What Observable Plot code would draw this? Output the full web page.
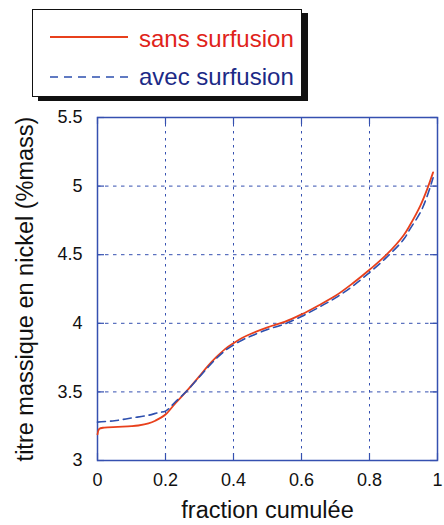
<!DOCTYPE html>
<html>
<head>
<meta charset="utf-8">
<script src="https://cdn.jsdelivr.net/npm/d3@7"></script>
<script src="https://cdn.jsdelivr.net/npm/@observablehq/plot@0.6"></script>
<style>
  html, body { margin: 0; padding: 0; background: #fff; }
  #wrap { position: relative; width: 444px; height: 525px; font-family: "Liberation Sans", Arial, sans-serif; }
  #legend { position: absolute; left: 32px; top: 9px; width: 268px; height: 86px; background: #fff;
            border: 1.5px solid #111; box-shadow: 6px 4px 0 #111; }
  #legend svg { position: absolute; left: 0; top: 0; }
  .lt { position: absolute; font-size: 24px; white-space: nowrap; line-height: 1; }
</style>
</head>
<body>
<div id="wrap">
  <div id="chart"></div>
  <div id="legend">
    <svg width="110" height="86">
      <line x1="17" x2="95" y1="27" y2="27" stroke="#e8401c" stroke-width="1.8"></line>
      <line x1="17" x2="95" y1="67" y2="67" stroke="#2d4fae" stroke-width="1.6" stroke-dasharray="8,6"></line>
    </svg>
    <div class="lt" style="left:106px; top:17px; color:#e0231a;">sans surfusion</div>
    <div class="lt" style="left:106px; top:55px; color:#1c2a86;">avec surfusion</div>
  </div>
</div>
<script>
// Data
const fraction_sans = [0, 0.005, 0.02, 0.06, 0.1, 0.12, 0.15, 0.17, 0.2, 0.23, 0.26, 0.3, 0.325, 0.35, 0.375, 0.4, 0.425, 0.45, 0.5, 0.55, 0.6, 0.65, 0.7, 0.75, 0.8, 0.85, 0.9, 0.92, 0.95, 0.97, 0.987];
const nickel_sans   = [3.19, 3.23, 3.24, 3.245, 3.25, 3.255, 3.27, 3.29, 3.335, 3.42, 3.50, 3.615, 3.69, 3.755, 3.812, 3.855, 3.893, 3.922, 3.97, 4.01, 4.065, 4.13, 4.2, 4.29, 4.39, 4.50, 4.64, 4.72, 4.86, 4.98, 5.1];
const fraction_avec = [0, 0.05, 0.1, 0.15, 0.18, 0.2, 0.23, 0.26, 0.3, 0.325, 0.35, 0.375, 0.4, 0.425, 0.45, 0.5, 0.55, 0.6, 0.65, 0.7, 0.75, 0.8, 0.85, 0.9, 0.92, 0.95, 0.97, 0.987];
const nickel_avec   = [3.28, 3.29, 3.31, 3.33, 3.35, 3.36, 3.43, 3.50, 3.61, 3.68, 3.745, 3.80, 3.842, 3.877, 3.905, 3.955, 3.995, 4.05, 4.115, 4.185, 4.27, 4.37, 4.48, 4.61, 4.69, 4.81, 4.93, 5.06];
const xTicks = [0, 0.2, 0.4, 0.6, 0.8, 1];
const xTickLabels = ["0", "0.2", "0.4", "0.6", "0.8", "1"];
const yTicks = [3, 3.5, 4, 4.5, 5, 5.5];
const yTickLabels = ["3", "3.5", "4", "4.5", "5", "5.5"];
const xLabel = "fraction cumulée";
const yLabel = "titre massique en nickel (%mass)";

const sans = fraction_sans.map((f, i) => ({f, v: nickel_sans[i]}));
const avec = fraction_avec.map((f, i) => ({f, v: nickel_avec[i]}));

const blue = "#3550b0";
const width = 444, height = 525;
const mt = 117, mb = 65, ml = 97, mr = 7;
const ph = height - mt - mb, pw = width - ml - mr;
const tk = 7;

const chart = Plot.plot({
  width, height,
  marginTop: mt, marginBottom: mb, marginLeft: ml, marginRight: mr,
  style: {fontFamily: "'Liberation Sans', Arial, sans-serif", fontSize: "18px", color: "#111", background: "transparent"},
  x: {domain: [0, 1]},
  y: {domain: [3, 5.5]},
  marks: [
    Plot.gridX(xTicks.slice(1, -1), {stroke: blue, strokeOpacity: 1, strokeWidth: 1, strokeDasharray: "2.5,4.5"}),
    Plot.gridY(yTicks.slice(1, -1), {stroke: blue, strokeOpacity: 1, strokeWidth: 1, strokeDasharray: "3.5,4.5"}),
    Plot.tickX(xTicks, {x: d => d, stroke: blue, strokeWidth: 1.2, insetTop: ph - tk}),
    Plot.tickX(xTicks, {x: d => d, stroke: blue, strokeWidth: 1.2, insetBottom: ph - tk}),
    Plot.tickY(yTicks, {y: d => d, stroke: blue, strokeWidth: 1.2, insetRight: pw - tk}),
    Plot.tickY(yTicks, {y: d => d, stroke: blue, strokeWidth: 1.2, insetLeft: pw - tk}),
    Plot.frame({stroke: blue, strokeWidth: 1.5}),
    Plot.axisX(xTicks, {tickSize: 0, tickPadding: 13, tickFormat: (d, i) => xTickLabels[i], label: null, fontSize: 18}),
    Plot.axisY(yTicks, {tickSize: 0, tickPadding: 15, tickFormat: (d, i) => yTickLabels[i], label: null, fontSize: 18}),
    Plot.line(sans, {x: "f", y: "v", stroke: "#e8401c", strokeWidth: 1.8, curve: "catmull-rom"}),
    Plot.line(avec, {x: "f", y: "v", stroke: "#2d4fae", strokeWidth: 1.6, strokeDasharray: "8,5", curve: "catmull-rom"}),
    Plot.text([xLabel], {text: d => d, frameAnchor: "bottom", dy: 50, lineAnchor: "middle", textAnchor: "middle", fontSize: 23.5, fill: "#111"}),
    Plot.text([yLabel], {text: d => d, frameAnchor: "left", dx: -72, rotate: -90, lineAnchor: "middle", textAnchor: "middle", fontSize: 23.5, fill: "#111"})
  ]
});
document.getElementById("chart").appendChild(chart);
</script>
</body>
</html>
